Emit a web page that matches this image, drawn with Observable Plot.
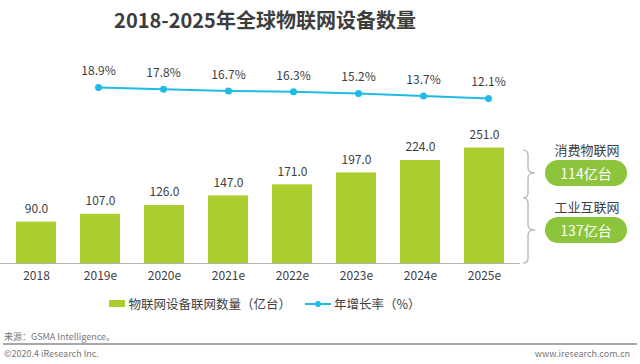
<!DOCTYPE html>
<html><head><meta charset="utf-8">
<script src="https://cdn.jsdelivr.net/npm/d3@7"></script>
<script src="https://cdn.jsdelivr.net/npm/@observablehq/plot@0.6"></script>
<style>
html,body{margin:0;padding:0;background:#fff;}
body{width:640px;height:364px;overflow:hidden;position:relative;font-family:"Noto Sans CJK SC","Noto Sans",sans-serif;color:#404040;}
.abs{position:absolute;}
#title{left:0;width:530px;top:6px;text-align:center;font-size:20px;font-weight:bold;color:#3d3d3d;line-height:28px;}
#linechart{left:0;top:60px;}
#barchart{left:0;top:110px;}
svg{overflow:visible;}
.seg{font-size:13px;color:#404040;width:100px;text-align:center;left:537px;}
.pill{left:545px;width:82px;height:26px;border-radius:13px;background:#8cc43c;color:#fff;font-size:14px;line-height:26px;text-align:center;}
#legend{top:294px;left:0;width:530px;font-size:12.5px;color:#404040;display:flex;justify-content:center;align-items:center;}
.foot{font-size:9px;color:#777;}
</style>
</head><body>
<div id="title" class="abs">2018-2025年全球物联网设备数量</div>
<div id="linechart" class="abs"></div>
<div id="barchart" class="abs"></div>
<svg class="abs" style="left:520px;top:145px" width="24" height="125">
  <path d="M3,5 Q8,5 8,10 L8,23 Q8,28 15,28 Q8,28 8,33 L8,48 Q8,53 3,53 Q8,53 8,58 L8,80 Q8,85 15,85 Q8,85 8,90 L8,113 Q8,118 3,118" fill="none" stroke="#b0b0b0" stroke-width="1.2"/>
</svg>
<div class="abs seg" style="top:140px">消费物联网</div>
<div class="abs pill" style="top:160px">114亿台</div>
<div class="abs seg" style="top:197px">工业互联网</div>
<div class="abs pill" style="top:217px">137亿台</div>
<div id="legend" class="abs">
  <span style="display:inline-block;width:16px;height:7px;background:#abcd2d;margin-right:3px"></span>
  <span>物联网设备联网数量（亿台）</span>
  <svg width="26" height="10" style="margin-left:14px;margin-right:3px"><line x1="0" y1="5" x2="26" y2="5" stroke="#1ebbe6" stroke-width="2"/><circle cx="13" cy="5" r="3" fill="#1ebbe6"/></svg>
  <span>年增长率（%）</span>
</div>
<div class="abs foot" style="left:4px;top:330px">来源：GSMA Intelligence。</div>
<div class="abs" style="left:3px;top:343px;width:634px;height:1.5px;background:#a8a8a8"></div>
<div class="abs foot" style="left:4px;top:347px">©2020.4 iResearch Inc.</div>
<div class="abs foot" style="right:10px;top:347px">www.iresearch.com.cn</div>
<script>
const years = ["2018","2019e","2020e","2021e","2022e","2023e","2024e","2025e"];
const devices = [90, 107, 126, 147, 171, 197, 224, 251];
const growthYears = ["2019e","2020e","2021e","2022e","2023e","2024e","2025e"];
const growth = [18.9, 17.8, 16.7, 16.3, 15.2, 13.7, 12.1];
const barData = years.map((y, i) => ({year: y, value: devices[i]}));
const lineData = growthYears.map((y, i) => ({year: y, rate: growth[i]}));
const xOpts = {domain: years, paddingInner: 0.375, paddingOuter: 0.25};
const font = '"Noto Sans CJK SC","Noto Sans",sans-serif';

const bars = Plot.plot({
  width: 520, height: 175,
  marginLeft: 0, marginRight: 0, marginTop: 15, marginBottom: 22,
  style: {fontFamily: font, fontSize: "12px", color: "#404040", background: "transparent"},
  x: {...xOpts, label: null, tickSize: 0, tickPadding: 8},
  y: {domain: [0, 300], axis: null},
  marks: [
    Plot.barY(barData, {x: "year", y: "value", fill: "#abcd2d"}),
    Plot.text(barData, {x: "year", y: "value", text: d => d.value.toFixed(1), dy: -13, fontSize: 12, fill: "#404040"}),
    Plot.ruleY([0], {stroke: "#b5b5b5", strokeWidth: 1})
  ]
});
document.getElementById("barchart").appendChild(bars);

const line = Plot.plot({
  width: 520, height: 45,
  marginLeft: 0, marginRight: 0, marginTop: 27, marginBottom: 7,
  style: {fontFamily: font, fontSize: "12px", color: "#404040", background: "transparent"},
  x: {...xOpts, axis: null},
  y: {domain: [12.1, 18.9], axis: null},
  marks: [
    Plot.line(lineData, {x: "year", y: "rate", stroke: "#1ebbe6", strokeWidth: 2}),
    Plot.dot(lineData, {x: "year", y: "rate", r: 3.5, fill: "#1ebbe6"}),
    Plot.text(lineData, {x: "year", y: "rate", text: d => d.rate.toFixed(1) + "%", dy: -16, fontSize: 12, fill: "#404040"})
  ]
});
document.getElementById("linechart").appendChild(line);
</script>
</body></html>
